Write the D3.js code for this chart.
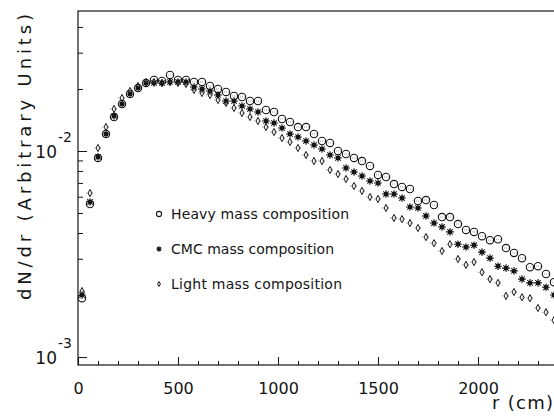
<!DOCTYPE html>
<html>
<head>
<meta charset="utf-8">
<script src="https://cdn.jsdelivr.net/npm/d3@7"></script>
<style>
  body { margin: 0; background: #fff; }
  svg { display: block; font-family: 'DejaVu Sans', sans-serif; }
</style>
</head>
<body>
<div id="chart"></div>
<script>
// bin centres (cm), 40 cm bins
const radii = [20, 60, 100, 140, 180, 220, 260, 300, 340, 380, 420, 460, 500, 540, 580,
  620, 660, 700, 740, 780, 820, 860, 900, 940, 980, 1020, 1060, 1100, 1140, 1180,
  1220, 1260, 1300, 1340, 1380, 1420, 1460, 1500, 1540, 1580, 1620, 1660, 1700, 1740, 1780,
  1820, 1860, 1900, 1940, 1980, 2020, 2060, 2100, 2140, 2180, 2220, 2260, 2300, 2340, 2380];

const heavy = [0.00193, 0.00553, 0.00925, 0.01209, 0.01462, 0.01691, 0.01891, 0.02022, 0.02139, 0.02211,
  0.02187, 0.02338, 0.02211, 0.02211, 0.02163, 0.02163, 0.02068, 0.0200, 0.01934, 0.01849,
  0.01828, 0.01748, 0.01748, 0.01581, 0.01546, 0.0143, 0.01383, 0.01307, 0.01307, 0.01209,
  0.01118, 0.01094, 0.0100, 0.00967, 0.00925, 0.00894, 0.00846, 0.00765, 0.00748, 0.00691,
  0.00669, 0.00654, 0.00572, 0.00578, 0.00547, 0.00478, 0.00478, 0.00442, 0.00414, 0.00405,
  0.00386, 0.00369, 0.00373, 0.00338, 0.0032, 0.00302, 0.00273, 0.00276, 0.00253, 0.00231];

const cmc = [0.0020, 0.00566, 0.00935, 0.01209, 0.01479, 0.01691, 0.01891, 0.02022, 0.02139, 0.02139,
  0.02139, 0.02163, 0.02163, 0.02163, 0.02045, 0.0200, 0.01956, 0.0187, 0.01748, 0.01748,
  0.01654, 0.01599, 0.01546, 0.01398, 0.01367, 0.01293, 0.01209, 0.01169, 0.01118, 0.01069,
  0.01023, 0.00956, 0.00925, 0.00827, 0.00791, 0.00756, 0.00715, 0.00699, 0.00618, 0.00618,
  0.00591, 0.00535, 0.00529, 0.00484, 0.00447, 0.00428, 0.00405, 0.00353, 0.00342, 0.00349,
  0.00323, 0.00302, 0.00276, 0.0027, 0.00262, 0.00239, 0.00229, 0.00229, 0.00218, 0.0020];

const light = [0.00209, 0.00625, 0.01034, 0.01307, 0.01599, 0.01808, 0.01956, 0.02068, 0.02163, 0.02163,
  0.02139, 0.02163, 0.02139, 0.02115, 0.01978, 0.01912, 0.0187, 0.01768, 0.0171, 0.01617,
  0.01529, 0.01462, 0.01398, 0.01307, 0.01236, 0.01156, 0.01106, 0.01034, 0.00956, 0.00894,
  0.00894, 0.00809, 0.00773, 0.00731, 0.00676, 0.0064, 0.00598, 0.00585, 0.00529, 0.00473,
  0.00467, 0.00447, 0.00423, 0.00382, 0.00357, 0.00327, 0.00353, 0.00299, 0.0028, 0.00289,
  0.00258, 0.00239, 0.00229, 0.00198, 0.00207, 0.00195, 0.00193, 0.00173, 0.00165, 0.00151];

const legendLabels = ['Heavy mass composition', 'CMC mass composition', 'Light mass composition'];

const xMajorTicks = [0, 500, 1000, 1500, 2000];
const xMinorTicks = [100, 200, 300, 400, 600, 700, 800, 900, 1100, 1200, 1300, 1400,
  1600, 1700, 1800, 1900, 2100, 2200, 2300];
const yMajorTicks = [0.001, 0.01];
const yMajorExp = ['-3', '-2'];
const yMinorTicks = [0.002, 0.003, 0.004, 0.005, 0.006, 0.007, 0.008, 0.009, 0.02, 0.03, 0.04];

const W = 554;
const H = 417;
const plot = { left: 78, right: 558, top: 11, bottom: 365 };
const ink = '#151515';

const svg = d3
  .select('#chart')
  .append('svg')
  .attr('width', W)
  .attr('height', H);

// Scales
const x = d3.scaleLinear().domain([0, 2400]).range([plot.left, plot.right]);
const y = d3.scaleLog().domain([0.000915, 0.0478]).range([plot.bottom, plot.top]);

// Frame
svg
  .append('rect')
  .attr('x', plot.left)
  .attr('y', plot.top)
  .attr('width', plot.right - plot.left)
  .attr('height', plot.bottom - plot.top)
  .attr('fill', 'none')
  .attr('stroke', ink)
  .attr('stroke-width', 1.2);

// X-axis (ticks point inward)
const xAxis = svg.append('g').attr('transform', 'translate(0,' + plot.bottom + ')');
xAxis.call(
  d3.axisBottom(x)
    .tickValues(xMajorTicks)
    .tickSizeInner(-8)
    .tickSizeOuter(0)
    .tickPadding(18)
    .tickFormat(d3.format('d'))
);
xAxis.append('g').call(
  d3.axisBottom(x)
    .tickValues(xMinorTicks)
    .tickSizeInner(-4)
    .tickSizeOuter(0)
    .tickFormat('')
);
xAxis.selectAll('.domain').remove();
xAxis.selectAll('line').attr('stroke', ink);
xAxis
  .selectAll('text')
  .attr('fill', ink)
  .attr('font-size', '16px')
  .attr('font-family', "'DejaVu Sans', sans-serif");

// Y-axis
const yAxis = svg.append('g').attr('transform', 'translate(' + plot.left + ',0)');
yAxis.call(
  d3.axisLeft(y)
    .tickValues(yMajorTicks)
    .tickSizeInner(-9)
    .tickSizeOuter(0)
    .tickFormat('')
);
yAxis.append('g').call(
  d3.axisLeft(y)
    .tickValues(yMinorTicks)
    .tickSizeInner(-5)
    .tickSizeOuter(0)
    .tickFormat('')
);
yAxis.selectAll('.domain').remove();
yAxis.selectAll('line').attr('stroke', ink);

// 10^n labels
yMajorTicks.forEach(function(v, i) {
  svg
    .append('text')
    .attr('x', 57)
    .attr('y', y(v) + 7)
    .attr('text-anchor', 'end')
    .attr('font-size', '17px')
    .attr('fill', ink)
    .text('10');
  svg
    .append('text')
    .attr('x', 58)
    .attr('y', y(v) - 9)
    .attr('font-size', '14px')
    .attr('fill', ink)
    .text(yMajorExp[i]);
});

// Axis titles
svg
  .append('text')
  .attr('transform', 'translate(31,157) rotate(-90)')
  .attr('text-anchor', 'middle')
  .attr('font-size', '18px')
  .attr('fill', ink)
  .attr('textLength', 286)
  .attr('lengthAdjust', 'spacing')
  .text('dN/dr (Arbitrary Units)');

svg
  .append('text')
  .attr('x', 553)
  .attr('y', 409)
  .attr('text-anchor', 'end')
  .attr('font-size', '18px')
  .attr('fill', ink)
  .attr('textLength', 61)
  .attr('lengthAdjust', 'spacing')
  .text('r (cm)');

// Marker shapes
function starPath(s) {
  const a = s * 0.707;
  return 'M' + -s + ',0L' + s + ',0M0,' + -s + 'L0,' + s +
    'M' + -a + ',' + -a + 'L' + a + ',' + a + 'M' + -a + ',' + a + 'L' + a + ',' + -a;
}
function diamondPath(w, h) {
  return 'M0,' + -h + 'L' + w + ',0L0,' + h + 'L' + -w + ',0Z';
}

function drawMarker(sel, shape, scale) {
  if (shape === 'circle') {
    sel
      .append('circle')
      .attr('r', 3.7 * scale)
      .attr('fill', 'none')
      .attr('stroke', ink)
      .attr('stroke-width', 1.1);
  } else if (shape === 'star') {
    sel
      .append('path')
      .attr('d', starPath(3.8 * scale))
      .attr('stroke', ink)
      .attr('stroke-width', 1.1);
    sel
      .append('circle')
      .attr('r', 2.2 * scale)
      .attr('fill', ink);
  } else {
    sel
      .append('path')
      .attr('d', diamondPath(2 * scale, 3.6 * scale))
      .attr('fill', 'none')
      .attr('stroke', ink)
      .attr('stroke-width', 1);
  }
}

const series = [
  { label: legendLabels[0], values: heavy, shape: 'circle' },
  { label: legendLabels[1], values: cmc, shape: 'star' },
  { label: legendLabels[2], values: light, shape: 'diamond' }
];

// Points with small horizontal bin bars
series.forEach(function(s) {
  const pts = svg
    .append('g')
    .selectAll('g')
    .data(radii.map(function(r, i) {
      return { r: r, v: s.values[i] };
    }))
    .join('g')
    .attr('transform', function(d) {
      return 'translate(' + x(d.r) + ',' + y(d.v) + ')';
    });
  pts
    .append('line')
    .attr('x1', function(d) { return x(d.r - 20) - x(d.r); })
    .attr('x2', function(d) { return x(d.r + 20) - x(d.r); })
    .attr('stroke', '#8a8a8a')
    .attr('stroke-width', 0.8)
    .attr('stroke-dasharray', '1,1');
  drawMarker(pts, s.shape, 1);
});

// Legend
const legend = svg
  .append('g')
  .selectAll('g')
  .data(series)
  .join('g')
  .attr('transform', function(d, i) {
    return 'translate(159,' + (214 + i * 35) + ')';
  });
legend.each(function(d) {
  drawMarker(d3.select(this), d.shape, 0.7);
});
legend
  .append('text')
  .attr('x', 12)
  .attr('y', 5)
  .attr('font-size', '14px')
  .attr('fill', ink)
  .attr('textLength', function(d, i) { return [178, 163, 171][i]; })
  .attr('lengthAdjust', 'spacing')
  .text(function(d) { return d.label; });
</script>
</body>
</html>
